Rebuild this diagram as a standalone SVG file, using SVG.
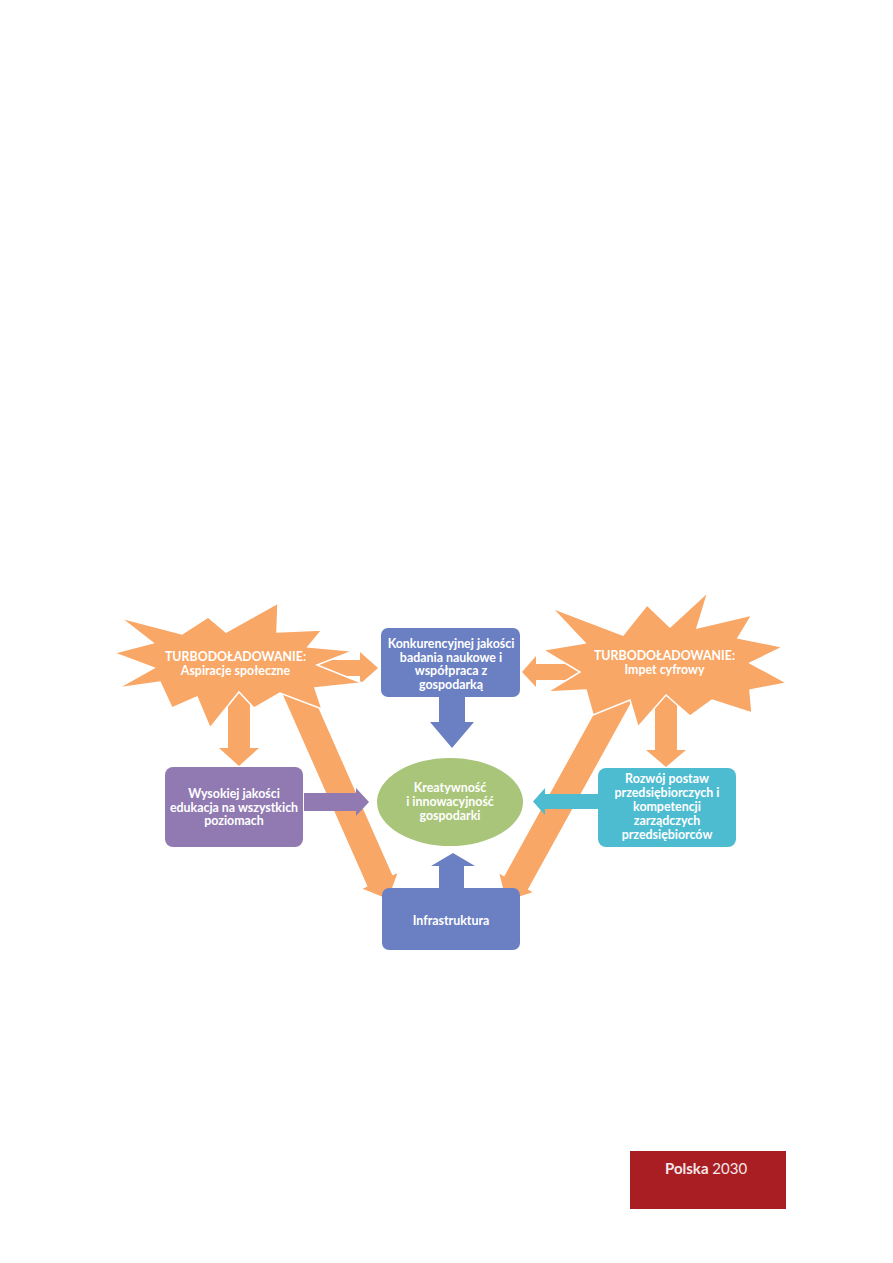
<svg xmlns="http://www.w3.org/2000/svg" width="893" height="1263" viewBox="0 0 893 1263">
<style>
.star{fill:#F9A766;stroke:#FFFFFF;stroke-width:1.5;stroke-linejoin:miter}
.orange{fill:#F9A766}
.blue{fill:#6B80C2}
.purple{fill:#917AB2}
.teal{fill:#4DBCD1}
.green{fill:#A9C57A}
.t{font-family:Lato,"Liberation Sans",sans-serif;font-weight:700;font-size:12.4px;fill:#FFFFFF;text-anchor:middle}
.foot{font-family:Lato,"Liberation Sans",sans-serif;font-size:15px;fill:#F5E8E8}
</style>
<rect width="893" height="1263" fill="#FFFFFF"/>
<g id="connectors">
  <polygon class="orange" points="300,660 360,660 360,652 378,668 360,684 360,676 300,676"/>
  <polygon class="orange" points="600,664 536,664 536,656 522,672 536,687 536,680 600,680"/>
  <polygon class="orange" points="228,688 250,688 250,748 259,748 239,766 219,748 228,748"/>
  <polygon class="orange" points="655,688 677,688 677,750 686,750 666,767 646,750 655,750"/>
  <polygon class="orange" points="299.4,665 392.4,875.3 397.4,873.3 388,899 362.6,888.7 367.6,886.5 274.6,676"/>
  <polygon class="orange" points="639,688 527.8,889.5 532.6,892.2 506.3,900.5 499.4,873.8 504.2,876.5 615.5,675"/>
  <polygon class="blue" points="439,697 465,697 465,722 474,722 452,748 430,722 439,722"/>
  <polygon class="blue" points="439,889 464,889 464,866 475,866 453,853 431,866 439,866"/>
  <polygon class="purple" points="304,793 356,793 356,788 369,802 356,816 356,811 304,811"/>
  <polygon class="teal" points="599,794 545,794 545,788 533,801.5 545,815 545,809 599,809"/>
</g>
<g id="star-aspiracje">
  <polygon class="star" points="114,653 153,643 121,618 182,634 208,617 226,632 278,603 277,632 322,630 308,647 353,651 317,665 362,683 315,688 322,709 280,693 254,708 239,692 210,728 197,697 172,708 160,682 118,688 154,668"/>
  <text class="t" x="235.5" y="661">TURBODOŁADOWANIE:</text>
  <text class="t" x="235.5" y="675">Aspiracje społeczne</text>
</g>
<g id="star-impet">
  <polygon class="star" points="708,592 697,628 752,615 738,638 783,647 750,663 787,683 750,690 752,713 712,700 690,716 666,695 638,727 630,700 593,715 586,690 547,692 580,672 543,650 585,643 552,608 623,635 647,605 670,627"/>
  <text class="t" x="664.5" y="660">TURBODOŁADOWANIE:</text>
  <text class="t" x="664.5" y="674">Impet cyfrowy</text>
</g>
<g id="box-badania">
  <rect class="blue" x="381" y="628" width="139" height="69" rx="7"/>
  <text class="t" x="451" y="648">Konkurencyjnej jakości</text>
  <text class="t" x="451" y="662">badania naukowe i</text>
  <text class="t" x="451" y="675">współpraca z</text>
  <text class="t" x="451" y="689">gospodarką</text>
</g>
<g id="box-edukacja">
  <rect class="purple" x="165" y="767" width="138" height="80" rx="8"/>
  <text class="t" x="234" y="798">Wysokiej jakości</text>
  <text class="t" x="234" y="812">edukacja na wszystkich</text>
  <text class="t" x="234" y="825">poziomach</text>
</g>
<g id="ellipse-kreatywnosc">
  <ellipse class="green" cx="450" cy="802" rx="73" ry="44"/>
  <text class="t" x="450" y="792">Kreatywność</text>
  <text class="t" x="450" y="806">i innowacyjność</text>
  <text class="t" x="450" y="820">gospodarki</text>
</g>
<g id="box-przedsiebiorczosc">
  <rect class="teal" x="598" y="768" width="138" height="79" rx="8"/>
  <text class="t" x="667" y="783">Rozwój postaw</text>
  <text class="t" x="667" y="797">przedsiębiorczych i</text>
  <text class="t" x="667" y="811">kompetencji</text>
  <text class="t" x="667" y="825">zarządczych</text>
  <text class="t" x="667" y="839">przedsiębiorców</text>
</g>
<g id="box-infrastruktura">
  <rect class="blue" x="382" y="888" width="138" height="62" rx="7"/>
  <text class="t" x="451" y="925">Infrastruktura</text>
</g>
<g id="footer">
  <rect x="630" y="1151" width="156" height="58" fill="#A91E23"/>
  <text class="foot" x="665" y="1174"><tspan font-weight="700">Polska</tspan> 2030</text>
</g>
</svg>
